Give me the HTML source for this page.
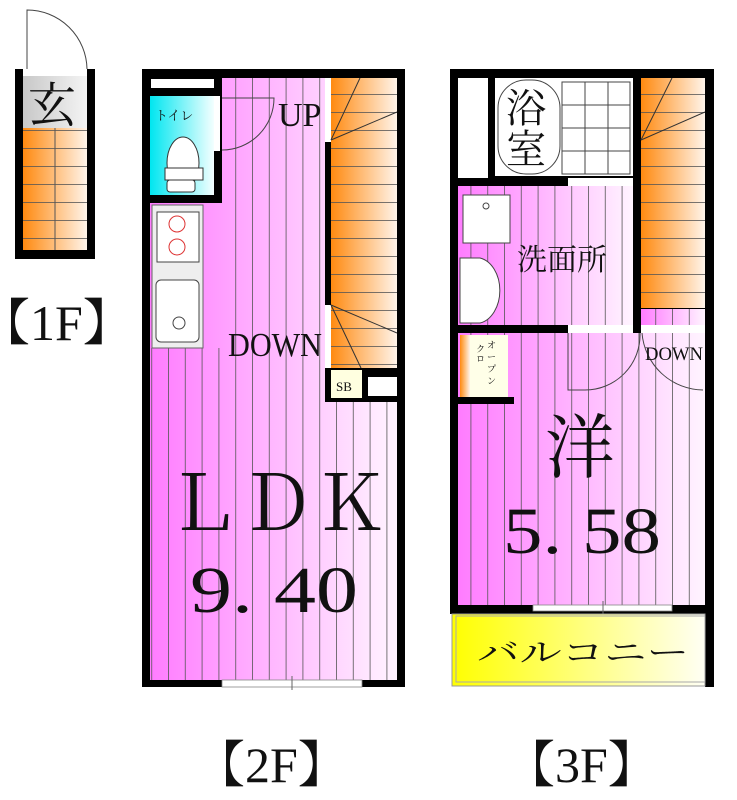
<!DOCTYPE html>
<html><head><meta charset="utf-8"><style>
html,body{margin:0;padding:0;background:#fff;width:737px;height:800px;overflow:hidden}
text{font-family:"Liberation Serif","Noto Serif CJK JP",serif;fill:#111}
</style></head><body>
<svg width="737" height="800" viewBox="0 0 737 800" xmlns="http://www.w3.org/2000/svg">
<defs>
<linearGradient id="pk" x1="0" x2="1"><stop offset="0" stop-color="#ff7cff"/><stop offset="1" stop-color="#fff4ff"/></linearGradient>
<linearGradient id="or" x1="0" x2="1"><stop offset="0" stop-color="#ff8a10"/><stop offset="1" stop-color="#fff4ea"/></linearGradient>
<linearGradient id="cy" x1="0" x2="1"><stop offset="0" stop-color="#00e6f0"/><stop offset="1" stop-color="#f4ffff"/></linearGradient>
<linearGradient id="ye" x1="0" x2="1"><stop offset="0" stop-color="#ffff00"/><stop offset="1" stop-color="#fffff4"/></linearGradient>
<linearGradient id="gr" x1="0" x2="1"><stop offset="0" stop-color="#c8c8c8"/><stop offset="1" stop-color="#f4f4f4"/></linearGradient>
<pattern id="st" width="16.8" height="10" patternUnits="userSpaceOnUse" x="0"><line x1="0.5" y1="0" x2="0.5" y2="10" stroke="#555" stroke-width="0.8"/></pattern>
<pattern id="sh" width="10" height="18" patternUnits="userSpaceOnUse" y="4"><line x1="0" y1="0.5" x2="10" y2="0.5" stroke="#555" stroke-width="0.8"/></pattern>
</defs>

<!-- 1F -->
<path d="M27 69 L27 10 A60 60 0 0 1 87 69" fill="none" stroke="#444" stroke-width="1"/>
<rect x="15" y="69" width="80" height="190" fill="#000"/>
<rect x="23" y="69" width="64" height="7" fill="#fff"/>
<rect x="23" y="76" width="64" height="52" fill="url(#gr)"/>
<rect x="23" y="128" width="64" height="122" fill="url(#or)"/>
<rect x="23" y="128" width="64" height="122" fill="url(#sh)"/>
<line x1="55" y1="128" x2="55" y2="250" stroke="#555"/>
<text x="28" y="122" font-size="48">玄</text>
<text x="-20" y="340" font-size="50">【1F】</text>

<!-- 2F -->
<rect x="142" y="69" width="263" height="618" fill="#000"/>
<rect x="150" y="78" width="247" height="602" fill="url(#pk)"/>
<rect x="222" y="78" width="175" height="602" fill="url(#st)"/>
<rect x="150" y="348" width="72" height="332" fill="url(#st)"/>
<rect x="150" y="78" width="72" height="125" fill="#000"/>
<rect x="151" y="79" width="63" height="9" fill="#fff"/>
<rect x="150" y="96" width="64" height="99" fill="url(#cy)"/>
<rect x="214" y="96" width="6" height="55" fill="#fff"/>
<path d="M222 150 A52 52 0 0 0 274 98 L222 98" fill="none" stroke="#444"/>
<text x="155" y="120" font-size="13" font-family="Noto Sans CJK JP">トイレ</text>
<ellipse cx="183" cy="163" rx="16" ry="26" fill="#fff" stroke="#333"/>
<rect x="165" y="168" width="38" height="12" fill="#fff" stroke="#333"/>
<rect x="167" y="180" width="28" height="12" rx="3" fill="#fff" stroke="#333"/>
<rect x="152" y="205" width="51" height="143" fill="#eee" stroke="#666"/>
<rect x="157" y="212" width="42" height="50" fill="#fff" stroke="#444"/>
<circle cx="177" cy="224" r="8" fill="none" stroke="#d33"/><circle cx="177" cy="247" r="8" fill="none" stroke="#d33"/>
<rect x="156" y="280" width="43" height="62" rx="5" fill="#fff" stroke="#444"/>
<circle cx="179" cy="323" r="6" fill="none" stroke="#444"/>
<rect x="325" y="78" width="72" height="290" fill="#000"/>
<rect x="331" y="78" width="66" height="290" fill="url(#or)"/>
<rect x="331" y="78" width="66" height="290" fill="url(#sh)"/>
<rect x="325" y="78" width="6" height="64" fill="#fff"/><rect x="325" y="305" width="6" height="63" fill="#fff"/>
<rect x="325" y="142" width="6" height="163" fill="#000"/>
<line x1="331" y1="140" x2="360" y2="78" stroke="#333"/><line x1="331" y1="140" x2="397" y2="112" stroke="#333"/>
<line x1="331" y1="305" x2="397" y2="333" stroke="#333"/><line x1="331" y1="305" x2="361" y2="368" stroke="#333"/>
<rect x="325" y="368" width="80" height="34" fill="#000"/>
<rect x="331" y="370" width="31" height="28" fill="#ffffe0"/>
<text x="336" y="391" font-size="13">SB</text>
<rect x="368" y="377" width="29" height="19" fill="#fff"/>
<rect x="222" y="680" width="140" height="7" fill="#fff" stroke="#888" stroke-width="0.8"/>
<line x1="292" y1="676" x2="292" y2="690" stroke="#666"/>
<text x="278" y="126" font-size="34">UP</text>
<text x="228" y="356" font-size="34" textLength="94" lengthAdjust="spacingAndGlyphs">DOWN</text>
<text x="166" y="530" font-size="76" textLength="222" lengthAdjust="spacingAndGlyphs">ＬＤＫ</text>
<text x="190" y="612" font-size="66" textLength="168" lengthAdjust="spacingAndGlyphs">9. 40</text>
<text x="195" y="782" font-size="50">【2F】</text>

<!-- 3F -->
<rect x="450" y="69" width="264" height="545" fill="#000"/>
<rect x="705" y="600" width="9" height="87" fill="#000"/>
<rect x="458" y="333" width="247" height="272" fill="url(#pk)"/>
<rect x="458" y="333" width="247" height="272" fill="url(#st)"/>
<rect x="458" y="186" width="175" height="139" fill="url(#pk)"/>
<rect x="458" y="186" width="175" height="139" fill="url(#st)"/>
<rect x="458" y="78" width="30" height="100" fill="#fff"/>
<rect x="495" y="78" width="138" height="98" fill="#fff"/>
<rect x="568" y="178" width="65" height="8" fill="#fff"/>
<rect x="568" y="325" width="65" height="8" fill="#fff"/>
<rect x="498" y="80" width="62" height="94" rx="28" fill="#fff" stroke="#444"/>
<rect x="562" y="82" width="68" height="92" fill="#fff" stroke="#444"/>
<path d="M562 105h68M562 128h68M562 151h68M585 82v92M608 82v92" stroke="#444" fill="none"/>
<text x="506" y="122" font-size="40">浴</text><text x="506" y="163" font-size="40">室</text>
<rect x="463" y="195" width="47" height="48" fill="#fff" stroke="#444"/>
<circle cx="486" cy="206" r="3" fill="none" stroke="#444"/>
<path d="M460 258 h20 a24 33 0 0 1 0 65 h-20z" fill="#fff" stroke="#444"/>
<text x="517" y="270" font-size="30">洗面所</text>
<rect x="641" y="78" width="64" height="230" fill="url(#or)"/>
<rect x="641" y="78" width="64" height="230" fill="url(#sh)"/>
<line x1="641" y1="140" x2="672" y2="78" stroke="#333"/><line x1="641" y1="140" x2="705" y2="112" stroke="#333"/>
<rect x="641" y="309" width="64" height="16" fill="url(#pk)"/>
<rect x="641" y="309" width="64" height="16" fill="url(#st)"/>
<rect x="641" y="325" width="64" height="8" fill="#fff"/>
<rect x="460" y="335" width="48" height="62" fill="#ffffe8"/>
<rect x="460" y="335" width="10" height="62" fill="url(#or)"/>
<text x="476" y="352" font-size="9" font-family="Noto Sans CJK JP">ク</text><text x="476" y="362" font-size="9" font-family="Noto Sans CJK JP">ロ</text>
<text x="487" y="348" font-size="9" font-family="Noto Sans CJK JP">オ</text><text x="487" y="360" font-size="9" font-family="Noto Sans CJK JP">ー</text><text x="487" y="372" font-size="9" font-family="Noto Sans CJK JP">プ</text><text x="487" y="384" font-size="9" font-family="Noto Sans CJK JP">ン</text>
<rect x="458" y="397" width="56" height="7" fill="#000"/>
<path d="M568 333 V390 H585 A55 55 0 0 0 640 333" fill="none" stroke="#444"/>
<path d="M642 333 A62 62 0 0 0 703 390" fill="none" stroke="#444"/>
<text x="645" y="360" font-size="19" textLength="58" lengthAdjust="spacingAndGlyphs">DOWN</text>
<text x="545" y="472" font-size="70">洋</text>
<text x="503" y="553" font-size="66" textLength="158" lengthAdjust="spacingAndGlyphs">5. 58</text>
<rect x="533" y="605" width="139" height="6" fill="#fff" stroke="#888" stroke-width="0.8"/>
<line x1="603" y1="601" x2="603" y2="618" stroke="#666"/>
<rect x="452" y="614" width="253" height="72" fill="url(#ye)" stroke="#999"/>
<rect x="456" y="616" width="249" height="66" fill="none" stroke="#aaa"/>
<text x="477" y="663" font-size="30" textLength="212" lengthAdjust="spacingAndGlyphs" font-family="Noto Serif CJK JP">バルコニー</text>
<text x="505" y="782" font-size="50">【3F】</text>
</svg>
</body></html>
